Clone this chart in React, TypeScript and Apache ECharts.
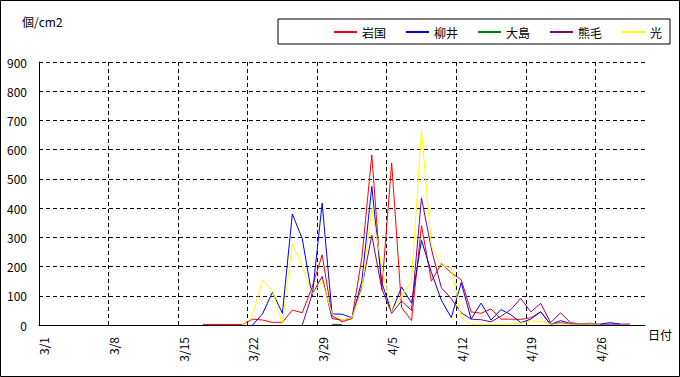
import React, { useEffect, useRef } from "react";
import * as echarts from "echarts";

const FONT = "'Noto Sans CJK JP', 'Noto Sans', sans-serif";

// Categories: 3/1 .. 4/30
const dates: string[] = [
  "3/1", "3/2", "3/3", "3/4", "3/5", "3/6", "3/7", "3/8", "3/9", "3/10",
  "3/11", "3/12", "3/13", "3/14", "3/15", "3/16", "3/17", "3/18", "3/19", "3/20",
  "3/21", "3/22", "3/23", "3/24", "3/25", "3/26", "3/27", "3/28", "3/29", "3/30", "3/31",
  "4/1", "4/2", "4/3", "4/4", "4/5", "4/6", "4/7", "4/8", "4/9", "4/10",
  "4/11", "4/12", "4/13", "4/14", "4/15", "4/16", "4/17", "4/18", "4/19", "4/20",
  "4/21", "4/22", "4/23", "4/24", "4/25", "4/26", "4/27", "4/28", "4/29", "4/30",
];

const seriesNames = ["岩国", "柳井", "大島", "熊毛", "光"];
const seriesColors = ["#FF0000", "#0000FF", "#008000", "#800080", "#FFFF00"];

// 岩国 (from 3/17)
const iwakuniStart = 16;
const iwakuni = [
  2, 2, 2, 2, 2, 20, 17, 9, 9, 51, 42, 130, 240, 32, 11, 22, 230, 582, 120, 555,
  60, 15, 340, 150, 210, 178, 155, 45, 40, 55, 20, 20, 19, 25, 45, 2, 8, 3, 3, 2,
];

// 柳井 (from 3/22)
const yanaiStart = 21;
const yanai = [
  0, 38, 112, 40, 380, 295, 97, 417, 38, 37, 25, 150, 474, 145, 45, 130, 75, 290,
  180, 85, 25, 145, 20, 75, 17, 53, 35, 8, 20, 45, 2, 15, 5, 2, 0, 3, 8, 3,
];

// 大島 (from 3/30)
const oshimaStart = 29;
const oshima = [2, 2];

// 熊毛 (from 3/27)
const kumageStart = 26;
const kumage = [
  0, 105, 166, 22, 17, 23, 130, 307, 125, 40, 82, 50, 435, 260, 128, 90, 42, 20,
  18, 11, 30, 53, 91, 45, 74, 8, 42, 8, 4, 6, 3, 3, 3, 3,
];

// 光 (from 3/21)
const hikariStart = 20;
const hikari = [
  0, 35, 154, 118, 5, 278, 200, 106, 149, 38, 17, 25, 122, 398, 200, 46, 100, 150,
  665, 270, 203, 196, 25, 2, 2, 2, 2, 3, 6, 13, 13, 3, 3, 3, 3, 3, 3,
];

const yMin = 0;
const yMax = 900;
const yStep = 100;

function place(start: number, values: number[]): (number | null)[] {
  const out: (number | null)[] = dates.map(() => null);
  values.forEach((v, k) => {
    out[start + k] = v;
  });
  return out;
}

const seriesData = [
  place(iwakuniStart, iwakuni),
  place(yanaiStart, yanai),
  place(oshimaStart, oshima),
  place(kumageStart, kumage),
  place(hikariStart, hikari),
];

export default function App() {
  const ref = useRef<HTMLDivElement>(null);

  useEffect(() => {
    if (!ref.current) return;
    const chart = echarts.init(ref.current, undefined, { renderer: "svg" });
    const option: any = {
      animation: false,
      backgroundColor: "#ffffff",
      textStyle: { fontFamily: FONT, color: "#000" },
      grid: { left: 39, right: 35, top: 62, bottom: 52, containLabel: false },
      legend: {
        left: 278,
        top: 19,
        padding: [7, 8, 6, 55],
        borderColor: "#000",
        borderWidth: 1,
        itemWidth: 23,
        itemHeight: 12,
        itemGap: 19,
        itemStyle: { opacity: 0 },
        textStyle: { color: "#000", fontSize: 12, fontFamily: FONT },
        data: seriesNames,
      },
      xAxis: {
        type: "category",
        data: dates,
        boundaryGap: true,
        name: "日付",
        nameLocation: "end",
        nameGap: 3,
        nameTextStyle: {
          color: "#000",
          fontSize: 12,
          fontFamily: FONT,
          verticalAlign: "top",
          padding: [3, 0, 0, 0],
        },
        axisLine: { show: true, lineStyle: { color: "#000", width: 1 } },
        axisTick: { show: false },
        axisLabel: {
          interval: 6,
          rotate: 90,
          margin: 12,
          color: "#000",
          fontSize: 12,
          fontFamily: FONT,
        },
        splitLine: {
          show: true,
          interval: 6,
          showMinLine: false,
          showMaxLine: false,
          lineStyle: { color: "#000", width: 1, type: [4, 3] },
        },
      },
      yAxis: {
        type: "value",
        min: yMin,
        max: yMax,
        interval: yStep,
        axisLine: { show: true, lineStyle: { color: "#000", width: 1 } },
        axisTick: { show: false },
        axisLabel: { color: "#000", fontSize: 12, margin: 12, fontFamily: FONT },
        splitLine: {
          show: true,
          showMinLine: false,
          lineStyle: { color: "#000", width: 1, type: [4, 3] },
        },
      },
      graphic: [
        {
          type: "rect",
          shape: { x: 0.5, y: 0.5, width: 679, height: 376 },
          style: { fill: "none", stroke: "#000", lineWidth: 1 },
          silent: true,
        },
        {
          type: "text",
          left: 22,
          top: 15,
          style: { text: "個/cm2", fill: "#000", fontSize: 12, fontFamily: FONT },
        },
      ],
      series: seriesNames.map((name, k) => ({
        name,
        type: "line",
        data: seriesData[k],
        symbol: "none",
        connectNulls: false,
        color: seriesColors[k],
        lineStyle: { width: 1, color: seriesColors[k] },
        itemStyle: { color: seriesColors[k] },
      })),
    };
    chart.setOption(option);
    return () => chart.dispose();
  }, []);

  return (
    <div
      ref={ref}
      style={{ position: "absolute", left: 0, top: 0, width: 680, height: 377, background: "#fff" }}
    />
  );
}
